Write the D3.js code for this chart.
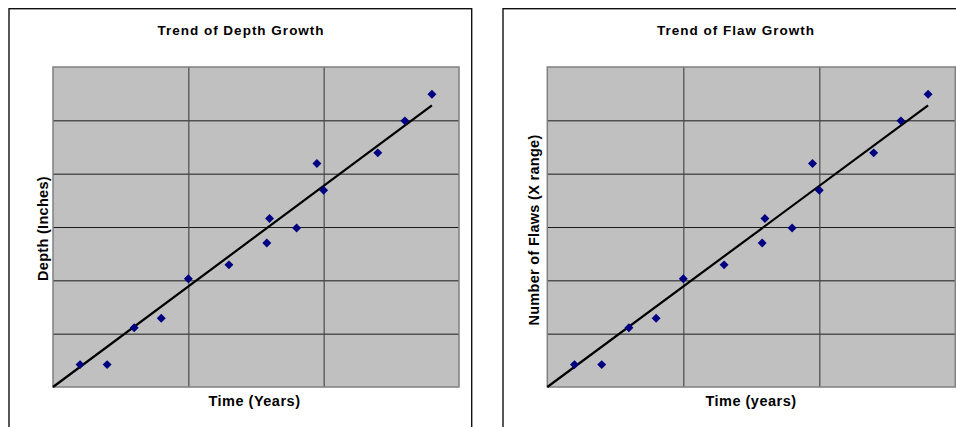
<!DOCTYPE html>
<html>
<head>
<meta charset="utf-8">
<script src="https://cdn.jsdelivr.net/npm/d3@7"></script>
<style>
  html, body { margin: 0; padding: 0; background: #fff; }
  svg { display: block; }
  text { font-family: "Liberation Sans", Arial, sans-serif; font-weight: bold; fill: #000; }
  .grid .domain { display: none; }
</style>
</head>
<body>
<div id="chart"></div>
<script>
// data (no tick labels in the original, so units are grid units)
var timeYears   = [0.2, 0.4, 0.6, 0.8, 1.0, 1.3, 1.58, 1.6, 1.8, 1.95, 2.0, 2.4, 2.6, 2.8]
var depthValues = [0.42, 0.42, 1.11, 1.29, 2.03, 2.29, 2.70, 3.16, 2.98, 4.19, 3.69, 4.39, 4.99, 5.49]
var flawValues  = [0.42, 0.42, 1.11, 1.29, 2.03, 2.29, 2.70, 3.16, 2.98, 4.19, 3.69, 4.39, 4.99, 5.49]
var xGridTicks  = [0, 1, 2, 3]
var yGridTicks  = [0, 1, 2, 3, 4, 5, 6]

var titles  = ["Trend of Depth Growth", "Trend of Flaw Growth"]
var xLabels = ["Time (Years)", "Time (years)"]
var yLabels = ["Depth (Inches)", "Number of Flaws (X range)"]

var W = 956, H = 427

var svg = d3.select("#chart").append("svg")
  .attr("width", W)
  .attr("height", H)

// layout of the two chart objects
var panels = [
  { box: {x: 9, y: 8.7, w: 462.7, h: 440}, plot: {x: 53, y: 67, w: 406, h: 320},
    titleX: 241, xLabelX: 254.5, yLabelX: 47.6, yLabelY: 228.5, values: depthValues },
  { box: {x: 503, y: 8.7, w: 480, h: 440}, plot: {x: 547.3, y: 67, w: 408, h: 320},
    titleX: 736, xLabelX: 751, yLabelX: 538.6, yLabelY: 230, values: flawValues }
]

function drawPanel(p, i) {
  var g = svg.append("g")

  g.append("rect")
    .attr("x", p.box.x).attr("y", p.box.y)
    .attr("width", p.box.w).attr("height", p.box.h)
    .attr("fill", "#fff")
    .attr("stroke", "#111")
    .attr("stroke-width", 1.4)

  var x = d3.scaleLinear().domain([0, 3]).range([0, p.plot.w])
  var y = d3.scaleLinear().domain([0, 6]).range([p.plot.h, 0])

  var pg = g.append("g")
    .attr("transform", "translate(" + p.plot.x + "," + p.plot.y + ")")

  pg.append("rect")
    .attr("width", p.plot.w).attr("height", p.plot.h)
    .attr("fill", "#c0c0c0")

  // gridlines
  pg.append("g")
    .attr("class", "grid")
    .call(d3.axisLeft(y).tickValues(yGridTicks.slice(1, -1)).tickSize(-p.plot.w).tickFormat(""))
    .selectAll("line").attr("stroke", "#1a1a1a").attr("stroke-width", 1)

  pg.append("g")
    .attr("class", "grid")
    .attr("transform", "translate(0," + p.plot.h + ")")
    .call(d3.axisBottom(x).tickValues(xGridTicks.slice(1, -1)).tickSize(-p.plot.h).tickFormat(""))
    .selectAll("line").attr("stroke", "#4a4a4a").attr("stroke-width", 1.2)

  pg.append("rect")
    .attr("width", p.plot.w).attr("height", p.plot.h)
    .attr("fill", "none")
    .attr("stroke", "#808080")
    .attr("stroke-width", 1.5)

  // linear trendline, intercept fixed at 0 (as in the original)
  var points = timeYears.map((t, k) => ({ t: t, v: p.values[k] }))
  var slope = d3.sum(points, d => d.t * d.v) / d3.sum(points, d => d.t * d.t)
  var tMax = d3.max(timeYears)
  var line = d3.line().x(d => x(d[0])).y(d => y(d[1]))

  pg.append("path")
    .datum([[0, 0], [tMax, slope * tMax]])
    .attr("d", line)
    .attr("fill", "none")
    .attr("stroke", "#000")
    .attr("stroke-width", 2.2)

  pg.selectAll("path.pt")
    .data(points)
    .enter().append("path")
      .attr("class", "pt")
      .attr("d", d3.symbol(d3.symbolSquare, 40))
      .attr("transform", d => "translate(" + x(d.t) + "," + y(d.v) + ") rotate(45)")
      .attr("fill", "#000080")

  g.append("text")
    .attr("x", p.titleX).attr("y", 35.3)
    .attr("text-anchor", "middle")
    .style("font-size", "13.5px")
    .style("letter-spacing", "1px")
    .text(titles[i])

  g.append("text")
    .attr("x", p.xLabelX).attr("y", 405.7)
    .attr("text-anchor", "middle")
    .style("font-size", "14.5px")
    .style("letter-spacing", "0.5px")
    .text(xLabels[i])

  g.append("text")
    .attr("transform", "translate(" + p.yLabelX + "," + p.yLabelY + ") rotate(-90)")
    .attr("text-anchor", "middle")
    .style("font-size", "14.5px")
    .style("letter-spacing", "0.3px")
    .text(yLabels[i])
}

panels.forEach(drawPanel)
</script>
</body>
</html>
